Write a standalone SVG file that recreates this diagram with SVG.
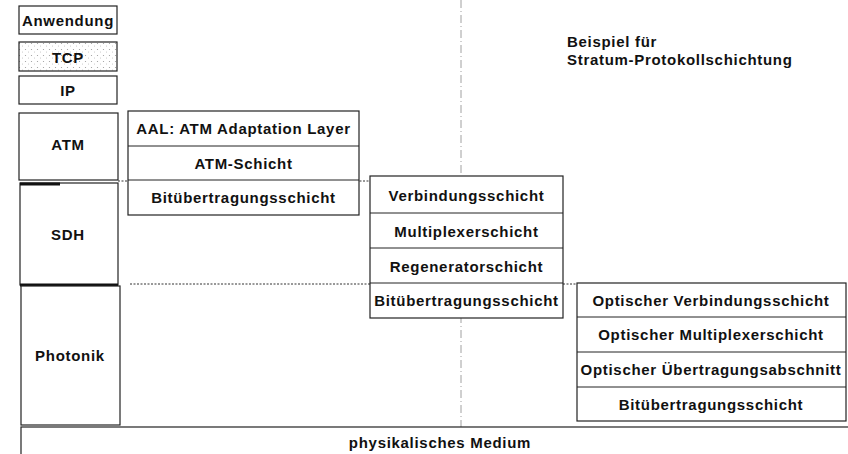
<svg xmlns="http://www.w3.org/2000/svg" width="848" height="454" viewBox="0 0 848 454">
<defs>
<pattern id="stip" width="6" height="6" patternUnits="userSpaceOnUse">
<rect width="6" height="6" fill="#fff"/>
<circle cx="1.5" cy="1.5" r="0.6" fill="#999"/>
<circle cx="4.5" cy="4" r="0.5" fill="#bbb"/>
</pattern>
</defs>
<style>
.b{fill:#fff;stroke:#222;stroke-width:1.2}
.t{font-family:"Liberation Sans",Arial,sans-serif;font-weight:bold;font-size:15px;letter-spacing:0.7px;fill:#111;text-anchor:middle;dominant-baseline:central}
.h{font-family:"Liberation Sans",Arial,sans-serif;font-weight:bold;font-size:15px;letter-spacing:0.7px;fill:#111}
.dot{stroke:#333;stroke-width:1;stroke-dasharray:2 1.5;fill:none}
.thick{stroke:#111;stroke-width:3}
</style>
<g id="connectors">
<line x1="461" y1="0" x2="461" y2="454" stroke="#888" stroke-width="0.8" stroke-dasharray="8 3 1 3"/>
<line class="dot" x1="118" y1="181" x2="370" y2="181"/>
<line class="dot" x1="130" y1="284" x2="370" y2="284"/>
<line class="dot" x1="563" y1="284" x2="577" y2="284"/>
</g>
<g id="title">
<text class="h" x="567" y="47">Beispiel für</text>
<text class="h" x="567" y="65">Stratum-Protokollschichtung</text>
</g>
<g id="anwendung"><rect class="b" x="19" y="6" width="98" height="28"/><text class="t" x="68" y="20" textLength="92" lengthAdjust="spacingAndGlyphs">Anwendung</text></g>
<g id="tcp"><rect class="b" x="19" y="42" width="98" height="29" style="fill:url(#stip)"/><text class="t" x="68" y="57">TCP</text></g>
<g id="ip"><rect class="b" x="19" y="76" width="98" height="28"/><text class="t" x="68" y="90">IP</text></g>
<g id="atm"><rect class="b" x="19" y="113" width="99" height="67"/><text class="t" x="68" y="144">ATM</text></g>
<g id="sdh"><rect class="b" x="20" y="183" width="98" height="102"/><line class="thick" x1="20" y1="184" x2="60" y2="184"/><line class="thick" x1="20" y1="285" x2="118" y2="285"/><text class="t" x="68" y="234">SDH</text></g>
<g id="photonik"><rect class="b" x="21" y="286" width="99" height="139"/><text class="t" x="70" y="355">Photonik</text></g>
<g id="atm-stack">
<rect class="b" x="128" y="111" width="231" height="104"/>
<line stroke="#222" x1="128" y1="146" x2="359" y2="146"/>
<line stroke="#222" x1="128" y1="180" x2="359" y2="180"/>
<text class="t" x="243.5" y="128.5">AAL: ATM Adaptation Layer</text>
<text class="t" x="243.5" y="163">ATM-Schicht</text>
<text class="t" x="243.5" y="197.5">Bitübertragungsschicht</text>
</g>
<g id="sdh-stack">
<rect class="b" x="370" y="176" width="193" height="142"/>
<line stroke="#222" x1="370" y1="213" x2="563" y2="213"/>
<line stroke="#222" x1="370" y1="248" x2="563" y2="248"/>
<line stroke="#222" x1="370" y1="283" x2="563" y2="283"/>
<text class="t" x="466.5" y="195">Verbindungsschicht</text>
<text class="t" x="466.5" y="231">Multiplexerschicht</text>
<text class="t" x="466.5" y="266">Regeneratorschicht</text>
<text class="t" x="466.5" y="300.5">Bitübertragungsschicht</text>
</g>
<g id="photonik-stack">
<rect class="b" x="577" y="283" width="269" height="138"/>
<line stroke="#222" x1="577" y1="317" x2="846" y2="317"/>
<line stroke="#222" x1="577" y1="352" x2="846" y2="352"/>
<line stroke="#222" x1="577" y1="387" x2="846" y2="387"/>
<text class="t" x="711" y="300">Optischer Verbindungsschicht</text>
<text class="t" x="711" y="334.5">Optischer Multiplexerschicht</text>
<text class="t" x="711" y="369.5">Optischer Übertragungsabschnitt</text>
<text class="t" x="711" y="404">Bitübertragungsschicht</text>
</g>
<g id="medium"><rect class="b" x="21" y="427" width="840" height="40"/><text class="t" x="440" y="442">physikalisches Medium</text></g>
</svg>
